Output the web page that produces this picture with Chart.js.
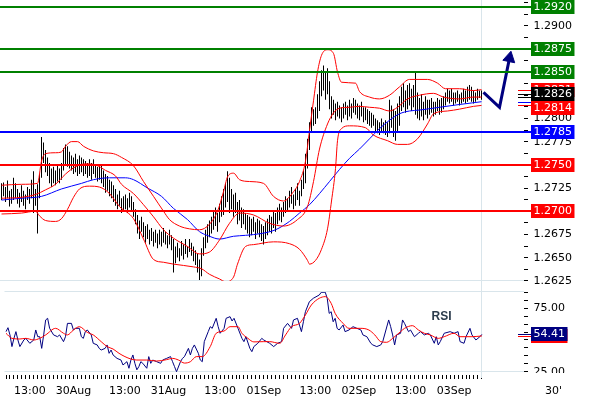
<!DOCTYPE html>
<html>
<head>
<title>EUR/USD 30'</title>
<script src="https://cdn.jsdelivr.net/npm/chart.js"></script>
<style>
  body { margin: 0; background: #fff; }
  #wrap { position: relative; width: 590px; height: 400px; overflow: hidden; }
  canvas { position: absolute; left: 0; }
</style>
</head>
<body>
<div id="wrap">
  <canvas id="priceChart" width="590" height="290" style="top:0"></canvas>
  <canvas id="rsiChart" width="590" height="115" style="top:285px"></canvas>
</div>
<script>
// 30 minute bars, index 0 = 27 Aug 07:00, index 240 = 03 Sep 07:00
const barLow = [
  1.2712, 1.2716, 1.2710, 1.2714, 1.2705, 1.2708, 1.2712, 1.2714, 1.2708, 1.2704, 1.2710, 1.2706,
  1.2702, 1.2712, 1.2708, 1.2714, 1.2698, 1.2706, 1.2676, 1.2714, 1.2736, 1.2752, 1.2742, 1.2738,
  1.2730, 1.2726, 1.2730, 1.2728, 1.2732, 1.2730, 1.2734, 1.2744, 1.2750, 1.2748, 1.2746, 1.2744,
  1.2740, 1.2742, 1.2738, 1.2740, 1.2742, 1.2738, 1.2740, 1.2736, 1.2738, 1.2734, 1.2740, 1.2736,
  1.2732, 1.2734, 1.2730, 1.2726, 1.2720, 1.2722, 1.2716, 1.2714, 1.2710, 1.2706, 1.2702, 1.2706,
  1.2698, 1.2700, 1.2702, 1.2698, 1.2704, 1.2700, 1.2694, 1.2686, 1.2676, 1.2670, 1.2678, 1.2672,
  1.2666, 1.2670, 1.2664, 1.2668, 1.2662, 1.2666, 1.2660, 1.2664, 1.2662, 1.2666, 1.2664, 1.2660,
  1.2664, 1.2658, 1.2634, 1.2644, 1.2650, 1.2646, 1.2652, 1.2648, 1.2654, 1.2650, 1.2656, 1.2652,
  1.2646, 1.2642, 1.2634, 1.2626, 1.2630, 1.2652, 1.2660, 1.2666, 1.2672, 1.2676, 1.2680, 1.2684,
  1.2678, 1.2688, 1.2694, 1.2696, 1.2704, 1.2710, 1.2698, 1.2702, 1.2694, 1.2698, 1.2686, 1.2690,
  1.2682, 1.2686, 1.2680, 1.2676, 1.2672, 1.2674, 1.2678, 1.2670, 1.2676, 1.2672, 1.2668, 1.2664,
  1.2670, 1.2674, 1.2678, 1.2676, 1.2682, 1.2678, 1.2686, 1.2690, 1.2688, 1.2694, 1.2698, 1.2700,
  1.2704, 1.2708, 1.2702, 1.2706, 1.2712, 1.2706, 1.2716, 1.2724, 1.2730, 1.2746, 1.2766, 1.2786,
  1.2792, 1.2794, 1.2800, 1.2808, 1.2824, 1.2830, 1.2820, 1.2826, 1.2810, 1.2800, 1.2804, 1.2798,
  1.2802, 1.2800, 1.2796, 1.2800, 1.2804, 1.2798, 1.2802, 1.2800, 1.2806, 1.2804, 1.2800, 1.2798,
  1.2802, 1.2796, 1.2798, 1.2794, 1.2792, 1.2790, 1.2792, 1.2786, 1.2784, 1.2782, 1.2786, 1.2784,
  1.2782, 1.2780, 1.2784, 1.2790, 1.2780, 1.2776, 1.2786, 1.2792, 1.2808, 1.2812, 1.2806, 1.2810,
  1.2814, 1.2808, 1.2812, 1.2804, 1.2800, 1.2798, 1.2802, 1.2798, 1.2804, 1.2800, 1.2804, 1.2806,
  1.2802, 1.2804, 1.2808, 1.2804, 1.2806, 1.2810, 1.2814, 1.2818, 1.2816, 1.2818, 1.2814, 1.2816,
  1.2818, 1.2814, 1.2816, 1.2818, 1.2816, 1.2818, 1.2820, 1.2818, 1.2816, 1.2818, 1.2820, 1.2822, 1.2820
];
const barHigh = [
  1.2730, 1.2731, 1.2726, 1.2733, 1.2722, 1.2724, 1.2736, 1.2730, 1.2724, 1.2720, 1.2728, 1.2722,
  1.2718, 1.2726, 1.2724, 1.2734, 1.2743, 1.2724, 1.2729, 1.2740, 1.2780, 1.2774, 1.2766, 1.2758,
  1.2752, 1.2746, 1.2748, 1.2744, 1.2750, 1.2746, 1.2752, 1.2768, 1.2772, 1.2770, 1.2764, 1.2760,
  1.2758, 1.2762, 1.2756, 1.2760, 1.2758, 1.2756, 1.2754, 1.2752, 1.2756, 1.2752, 1.2756, 1.2750,
  1.2748, 1.2750, 1.2750, 1.2744, 1.2740, 1.2738, 1.2734, 1.2732, 1.2728, 1.2724, 1.2718, 1.2722,
  1.2714, 1.2716, 1.2718, 1.2714, 1.2720, 1.2716, 1.2710, 1.2702, 1.2696, 1.2690, 1.2694, 1.2688,
  1.2684, 1.2686, 1.2680, 1.2682, 1.2678, 1.2680, 1.2676, 1.2680, 1.2678, 1.2682, 1.2678, 1.2674,
  1.2680, 1.2674, 1.2670, 1.2662, 1.2666, 1.2660, 1.2668, 1.2664, 1.2670, 1.2662, 1.2670, 1.2666,
  1.2662, 1.2658, 1.2654, 1.2648, 1.2660, 1.2672, 1.2680, 1.2686, 1.2690, 1.2694, 1.2700, 1.2704,
  1.2698, 1.2708, 1.2716, 1.2724, 1.2730, 1.2743, 1.2736, 1.2724, 1.2718, 1.2720, 1.2710, 1.2712,
  1.2704, 1.2702, 1.2698, 1.2696, 1.2694, 1.2692, 1.2694, 1.2688, 1.2692, 1.2690, 1.2686, 1.2684,
  1.2688, 1.2692, 1.2696, 1.2694, 1.2700, 1.2698, 1.2704, 1.2708, 1.2704, 1.2710, 1.2716, 1.2714,
  1.2722, 1.2726, 1.2718, 1.2724, 1.2730, 1.2722, 1.2734, 1.2744, 1.2762, 1.2778, 1.2796, 1.2812,
  1.2810, 1.2812, 1.2826, 1.2840, 1.2852, 1.2857, 1.2850, 1.2854, 1.2840, 1.2824, 1.2820, 1.2816,
  1.2818, 1.2814, 1.2812, 1.2816, 1.2818, 1.2814, 1.2820, 1.2816, 1.2822, 1.2820, 1.2816, 1.2814,
  1.2818, 1.2812, 1.2812, 1.2810, 1.2808, 1.2806, 1.2804, 1.2800, 1.2798, 1.2796, 1.2800, 1.2796,
  1.2798, 1.2796, 1.2820, 1.2814, 1.2810, 1.2808, 1.2816, 1.2824, 1.2834, 1.2838, 1.2830, 1.2836,
  1.2838, 1.2832, 1.2836, 1.2850, 1.2828, 1.2822, 1.2826, 1.2818, 1.2824, 1.2820, 1.2820, 1.2822,
  1.2818, 1.2818, 1.2822, 1.2820, 1.2822, 1.2824, 1.2828, 1.2832, 1.2830, 1.2832, 1.2828, 1.2828,
  1.2830, 1.2826, 1.2828, 1.2832, 1.2830, 1.2834, 1.2836, 1.2834, 1.2830, 1.2828, 1.2832, 1.2830, 1.2830
];
const lastClose = 1.2826;

// indicators, [bar index, value]
const upperBand = [[0,1.2728],[10,1.2729],[18,1.2730],[20,1.2754],[22,1.2762],[27,1.2763],[30,1.2764],[32,1.2770],
  [35,1.2775],[38,1.2775],[41,1.2770],[46,1.2765],[51,1.2763],[56,1.2762],[60,1.2758],[66,1.2749],[71,1.2732],
  [76,1.2716],[81,1.2700],[84,1.2691],[89,1.2684],[94,1.2681],[99,1.2680],[104,1.2686],[108,1.2700],[111,1.2721],
  [113,1.2737],[116,1.2741],[119,1.2734],[124,1.2732],[131,1.2730],[136,1.2716],[141,1.2711],[146,1.2721],
  [149,1.2732],[152,1.2754],[154,1.2787],[156,1.2819],[158,1.2850],[160,1.2868],[163,1.2874],[166,1.2870],
  [168,1.2850],[170,1.2839],[177,1.2838],[179,1.2829],[184,1.2823],[189,1.2821],[194,1.2825],[199,1.2834],
  [204,1.2842],[213,1.2842],[218,1.2838],[222,1.2832],[229,1.2832],[236,1.2830],[240,1.2831]];
const midBand = [[0,1.2714],[10,1.2715],[17,1.2718],[22,1.2723],[27,1.2729],[32,1.2740],[37,1.2748],[42,1.2751],
  [47,1.2750],[52,1.2744],[57,1.2738],[60,1.2729],[66,1.2719],[71,1.2707],[76,1.2694],[81,1.2680],[86,1.2671],
  [93,1.2662],[99,1.2654],[104,1.2656],[109,1.2669],[114,1.2687],[119,1.2698],[126,1.2696],[134,1.2687],
  [141,1.2684],[148,1.2691],[153,1.2705],[156,1.2732],[159,1.2767],[163,1.2794],[166,1.2806],[169,1.2811],
  [174,1.2812],[179,1.2813],[184,1.2812],[189,1.2811],[194,1.2808],[198,1.2812],[203,1.2821],[209,1.2825],
  [216,1.2827],[221,1.2823],[229,1.2821],[236,1.2823],[240,1.2823]];
const lowerBand = [[0,1.2697],[10,1.2698],[17,1.2700],[19,1.2695],[22,1.2690],[27,1.2689],[30,1.2692],[33,1.2702],
  [36,1.2715],[39,1.2724],[44,1.2727],[49,1.2726],[54,1.2719],[59,1.2705],[66,1.2692],[71,1.2670],[76,1.2648],
  [81,1.2645],[86,1.2643],[96,1.2640],[100,1.2638],[104,1.2632],[109,1.2627],[112,1.2624],[116,1.2629],
  [118,1.2643],[122,1.2662],[126,1.2664],[136,1.2667],[144,1.2665],[149,1.2659],[153,1.2647],[154,1.2643],
  [157,1.2647],[160,1.2659],[163,1.2681],[165,1.2711],[167,1.2746],[168,1.2776],[170,1.2789],[174,1.2792],
  [182,1.2790],[186,1.2782],[193,1.2776],[198,1.2772],[203,1.2772],[208,1.2778],[213,1.2794],[216,1.2805],
  [223,1.2808],[229,1.2810],[236,1.2813],[240,1.2814]];
const slowMA = [[0,1.2712],[10,1.2714],[20,1.2716],[30,1.2724],[40,1.2730],[46,1.2734],[54,1.2736],[62,1.2736],
  [66,1.2734],[73,1.2725],[80,1.2716],[86,1.2703],[93,1.2691],[99,1.2678],[104,1.2673],[109,1.2670],[116,1.2673],
  [122,1.2674],[130,1.2676],[137,1.2680],[144,1.2689],[149,1.2698],[154,1.2707],[159,1.2719],[164,1.2732],
  [169,1.2745],[174,1.2757],[179,1.2767],[184,1.2778],[189,1.2789],[194,1.2798],[199,1.2805],[204,1.2808],
  [209,1.2809],[219,1.2812],[229,1.2815],[240,1.2818]];
const forecast = [[241,1.2828],[249,1.2812],[254,1.2865]];

const levels = [1.2920, 1.2875, 1.2850, 1.2785, 1.2750, 1.2700];
const levelColors = ['#008000', '#008000', '#008000', '#0000ff', '#ff0000', '#ff0000'];
const priceLabels = [1.2625, 1.2650, 1.2675, 1.2700, 1.2725, 1.2750, 1.2775, 1.2800, 1.2825, 1.2850, 1.2875, 1.2900];

const rsi = [[0,56.6],[1,59.7],[2,54.0],[3,44.8],[4,51.3],[5,56.6],[6,50.0],[7,44.8],[9,50.0],[10,51.3],[12,47.4],
  [14,50.0],[15,57.9],[16,52.6],[17,52.6],[18,43.4],[19,54.0],[20,65.8],[21,67.1],[22,59.2],[24,54.0],[26,52.6],
  [27,54.0],[29,48.7],[30,52.6],[31,63.1],[33,63.1],[34,57.9],[35,59.2],[37,59.2],[38,52.6],[39,51.3],[40,56.6],
  [41,57.9],[43,54.0],[44,47.4],[46,46.1],[47,43.4],[48,42.1],[50,43.4],[51,46.1],[52,39.5],[53,42.1],[54,38.2],
  [56,35.5],[58,34.2],[59,30.3],[60,31.6],[61,32.9],[62,27.7],[63,34.2],[64,38.2],[65,31.6],[66,26.5],[67,29.0],
  [68,32.9],[69,31.6],[71,27.7],[72,36.9],[73,31.6],[74,34.2],[76,32.9],[78,31.6],[79,34.2],[81,35.5],[83,36.9],
  [84,32.9],[85,29.0],[86,25.0],[88,32.9],[89,35.5],[90,36.9],[92,43.4],[93,38.2],[94,43.4],[95,46.1],[97,39.5],
  [98,34.2],[99,32.9],[100,48.7],[102,56.6],[103,60.5],[104,59.2],[106,67.1],[107,60.5],[108,55.3],[110,59.2],
  [111,67.1],[113,68.4],[114,65.0],[115,67.1],[117,59.2],[119,51.3],[120,48.7],[121,52.6],[123,43.4],[124,40.8],
  [125,44.8],[127,47.4],[129,51.3],[130,50.0],[133,47.4],[135,44.8],[137,47.4],[139,48.7],[140,59.2],[142,63.1],
  [144,59.2],[145,65.8],[147,67.1],[149,56.6],[150,64.4],[151,72.3],[153,80.2],[155,82.9],[158,85.5],[159,87.6],
  [161,87.7],[162,82.9],[163,71.0],[164,72.3],[165,64.4],[166,67.1],[167,59.2],[168,57.9],[170,61.8],[171,56.6],
  [173,57.9],[175,60.5],[177,59.2],[179,57.9],[180,54.0],[182,52.6],[184,47.4],[185,46.1],[187,44.8],[189,46.1],
  [190,48.7],[193,65.8],[194,60.5],[195,54.0],[196,46.1],[197,54.0],[199,55.3],[200,65.8],[201,63.1],[203,56.6],
  [204,57.9],[206,52.6],[208,55.3],[209,56.6],[211,54.0],[213,55.3],[214,54.0],[216,47.4],[217,52.6],[218,46.1],
  [219,48.7],[221,55.3],[224,56.6],[226,55.3],[228,56.6],[229,48.7],[231,47.4],[232,52.6],[234,59.2],[235,54.0],
  [237,50.0],[239,52.6],[240,54.41]];
const rsiAvg = [[0,55.3],[3,51.3],[7,50.8],[10,51.3],[14,50.0],[17,51.3],[20,54.0],[25,59.2],[29,55.3],[31,54.0],
  [34,57.9],[37,60.5],[41,56.0],[44,54.0],[48,48.7],[51,44.8],[54,42.9],[57,39.5],[60,36.9],[63,35.0],[66,34.2],
  [71,34.2],[76,33.4],[81,34.5],[84,35.5],[87,34.2],[90,31.8],[93,32.9],[96,36.9],[99,36.9],[103,44.8],[106,55.3],
  [110,57.1],[113,60.5],[117,60.5],[119,55.3],[122,51.3],[125,48.5],[130,48.7],[133,48.7],[138,47.4],[141,54.0],
  [144,60.5],[148,63.1],[151,69.7],[154,77.6],[158,82.9],[161,84.2],[164,78.9],[166,71.0],[170,63.1],[173,59.2],
  [176,59.2],[179,59.2],[183,57.9],[186,54.0],[189,48.7],[192,48.2],[195,51.3],[199,56.6],[201,59.2],[205,61.3],
  [208,57.9],[211,55.3],[214,54.0],[218,51.3],[221,52.6],[226,55.3],[229,52.6],[235,52.6],[240,53.2]];
const rsiTicks = [25, 31.25, 37.5, 43.75, 50, 56.25, 62.5, 68.75, 75, 81.25, 87.5];
const rsiLabels = [25, 50, 75];

const timeLabelIdx = [12, 34, 60, 82, 108, 130, 156, 178, 204, 226];
const timeLabels = ['13:00', '30Aug', '13:00', '31Aug', '13:00', '01Sep', '13:00', '02Sep', '13:00', '03Sep'];
const lastBar = 240;

// ---- drawing ----
Chart.defaults.font.family = '"DejaVu Sans", sans-serif';
Chart.defaults.font.size = 11;
Chart.defaults.color = '#000';

const paleLine = '#d9e5eb';
const navy = '#000080';
const toPts = arr => arr.map(p => ({x: p[0], y: p[1]}));
const last = arr => arr[arr.length - 1][1];

// dashes every 0.00125 on the price axis, every hour on the time axis
const priceTicks = [];
for (let k = 0; k <= 24; k++) priceTicks.push(+(1.2625 + k * 0.00125).toFixed(5));
const hourTicks = [];
for (let i = 0; i <= lastBar; i += 2) hourTicks.push(i);

function drawBox(ctx, text, py, bg, x) {
  const w = ctx.measureText(text).width + 5;
  const top = Math.round(py - 7);
  ctx.fillStyle = bg;
  ctx.fillRect(x, top, w, 14);
  ctx.fillStyle = '#fff';
  ctx.fillText(text, x + 2.5, top + 7);
  return top + 14;
}

const priceOverlay = {
  id: 'priceOverlay',
  beforeDatasetsDraw(chart) {
    const {ctx, chartArea: a, scales: {x}} = chart;
    ctx.save();
    ctx.fillStyle = paleLine;
    ctx.fillRect(a.left, a.bottom - 1, a.right - a.left, 1);
    ctx.fillRect(Math.floor(x.getPixelForValue(lastBar)), 0, 1, chart.height);
    ctx.restore();
  },
  afterDatasetsDraw(chart) {
    const {ctx, chartArea: a, scales: {y}} = chart;
    const boxX = a.right + 7;
    ctx.save();
    levels.forEach((v, k) => {
      ctx.fillStyle = levelColors[k];
      ctx.fillRect(a.left, Math.round(y.getPixelForValue(v)) - 1, boxX - a.left, 2);
    });
    ctx.font = '11px "DejaVu Sans"';
    ctx.textBaseline = 'middle';
    ctx.fillStyle = '#000';
    priceLabels.forEach(v => ctx.fillText(v.toFixed(4), boxX + 2.5, Math.round(y.getPixelForValue(v))));
    levels.forEach((v, k) => drawBox(ctx, v.toFixed(4), y.getPixelForValue(v), levelColors[k], boxX));

    // current values of bands and price
    const up = last(upperBand), lo = last(lowerBand);
    drawBox(ctx, up.toFixed(4), y.getPixelForValue(up), '#ff0000', boxX);
    const closeBottom = drawBox(ctx, lastClose.toFixed(4), y.getPixelForValue(lastClose), '#000', boxX);
    drawBox(ctx, lo.toFixed(4), Math.max(y.getPixelForValue(lo), closeBottom + 7), '#ff0000', boxX);

    const marks = [[up, '#ff0000'], [lastClose, '#000'], [last(midBand), '#000'], [last(slowMA), '#0000ff'], [lo, '#ff0000']];
    marks.forEach(m => {
      ctx.fillStyle = m[1];
      ctx.fillRect(a.right - 6, Math.round(y.getPixelForValue(m[0])), 13, 1);
    });
    ctx.restore();
  }
};

const rsiOverlay = {
  id: 'rsiOverlay',
  beforeDatasetsDraw(chart) {
    const {ctx, chartArea: a, scales: {x, y}} = chart;
    ctx.save();
    ctx.fillStyle = paleLine;
    ctx.fillRect(a.left, a.top - 1, a.right - a.left, 1);
    ctx.fillRect(a.left, Math.floor(y.getPixelForValue(25)), a.right - a.left, 1);
    ctx.fillRect(Math.floor(x.getPixelForValue(lastBar)), 0, 1, a.bottom + 3);
    ctx.restore();
  },
  afterDatasetsDraw(chart) {
    const {ctx, chartArea: a, scales: {y}} = chart;
    const boxX = a.right + 7;
    ctx.save();
    ctx.font = '11px "DejaVu Sans"';
    ctx.textBaseline = 'middle';
    // the bottom RSI label is cut by the time axis strip
    ctx.save();
    ctx.beginPath();
    ctx.rect(a.right, 0, chart.width - a.right, a.bottom - 2);
    ctx.clip();
    ctx.fillStyle = '#000';
    rsiLabels.forEach(v => ctx.fillText(v.toFixed(2), boxX + 2.5, Math.round(y.getPixelForValue(v))));
    ctx.restore();
    const r = last(rsi), ra = last(rsiAvg);
    drawBox(ctx, ra.toFixed(2), y.getPixelForValue(ra), '#ff0000', boxX);
    drawBox(ctx, r.toFixed(2), y.getPixelForValue(r), navy, boxX);
    [[r, navy], [ra, '#ff0000']].forEach(m => {
      ctx.fillStyle = m[1];
      ctx.fillRect(a.right - 6, Math.round(y.getPixelForValue(m[0])), 13, 1);
    });
    ctx.fillStyle = '#000';
    ctx.fillText("30'", a.right + 21, a.bottom + 16);
    ctx.font = 'bold 12px "Liberation Sans", Arial, sans-serif';
    ctx.fillStyle = '#2c3c4c';
    ctx.fillText('RSI', a.left + 427, a.top + 25);
    ctx.restore();
  }
};

const rightAxis = (min, max, ticks) => ({
  position: 'right', min: min, max: max,
  afterBuildTicks: s => { s.ticks = ticks.map(v => ({value: v})); },
  afterFit: s => { s.width = 66; },
  ticks: {display: false},
  grid: {drawOnChartArea: false, drawTicks: true, tickLength: 4, color: '#000'},
  border: {display: false}
});

new Chart(document.getElementById('priceChart'), {
  type: 'bar',
  data: {
    datasets: [{
      type: 'line', data: toPts(forecast), borderColor: navy, borderWidth: 3,
      pointStyle: 'triangle', pointRadius: [0, 0, 7], pointRotation: [0, 0, 12],
      pointBackgroundColor: navy, pointBorderColor: navy, pointBorderWidth: 1
    }, {
      type: 'line', data: toPts(upperBand), borderColor: '#ff0000', borderWidth: 1,
      pointRadius: 0, cubicInterpolationMode: 'monotone'
    }, {
      type: 'line', data: toPts(midBand), borderColor: '#ff0000', borderWidth: 1,
      pointRadius: 0, cubicInterpolationMode: 'monotone'
    }, {
      type: 'line', data: toPts(lowerBand), borderColor: '#ff0000', borderWidth: 1,
      pointRadius: 0, cubicInterpolationMode: 'monotone'
    }, {
      type: 'line', data: toPts(slowMA), borderColor: '#0000ff', borderWidth: 1,
      pointRadius: 0, cubicInterpolationMode: 'monotone'
    }, {
      type: 'bar', order: 1,
      data: barLow.map((lo, i) => ({x: i, y: [lo, barHigh[i]]})),
      backgroundColor: '#000', barThickness: 1, inflateAmount: 0, borderWidth: 0
    }]
  },
  options: {
    responsive: false, animation: false, events: [],
    layout: {autoPadding: false, padding: {left: 0, right: 0, top: 0, bottom: 9}},
    plugins: {legend: {display: false}, tooltip: {enabled: false}},
    scales: {
      x: {type: 'linear', min: -0.75, max: 261.25, display: false, offset: false, grid: {offset: false}},
      y: rightAxis(1.26248, 1.29276, priceTicks)
    }
  },
  plugins: [priceOverlay]
});

new Chart(document.getElementById('rsiChart'), {
  type: 'line',
  data: {
    datasets: [{
      data: toPts(rsiAvg), borderColor: '#ff0000', borderWidth: 1,
      pointRadius: 0, cubicInterpolationMode: 'monotone'
    }, {
      data: toPts(rsi), borderColor: navy, borderWidth: 1, pointRadius: 0, tension: 0
    }]
  },
  options: {
    responsive: false, animation: false, events: [],
    layout: {autoPadding: false, padding: {left: 0, right: 0, top: 7, bottom: 0}},
    plugins: {legend: {display: false}, tooltip: {enabled: false}},
    scales: {
      x: {
        type: 'linear', min: -0.75, max: 261.25, position: 'bottom', offset: false,
        afterBuildTicks: s => { s.ticks = hourTicks.map(v => ({value: v})); },
        afterFit: s => { s.height = 25; },
        ticks: {
          autoSkip: false, maxRotation: 0, minRotation: 0, padding: 6, color: '#000',
          callback: v => {
            const k = timeLabelIdx.indexOf(v);
            return k < 0 ? '' : timeLabels[k];
          }
        },
        grid: {drawOnChartArea: false, drawTicks: true, tickLength: 4, color: '#000'},
        border: {display: false}
      },
      y: rightAxis(22.4, 87.85, rsiTicks)
    }
  },
  plugins: [rsiOverlay]
});
</script>
</body>
</html>
